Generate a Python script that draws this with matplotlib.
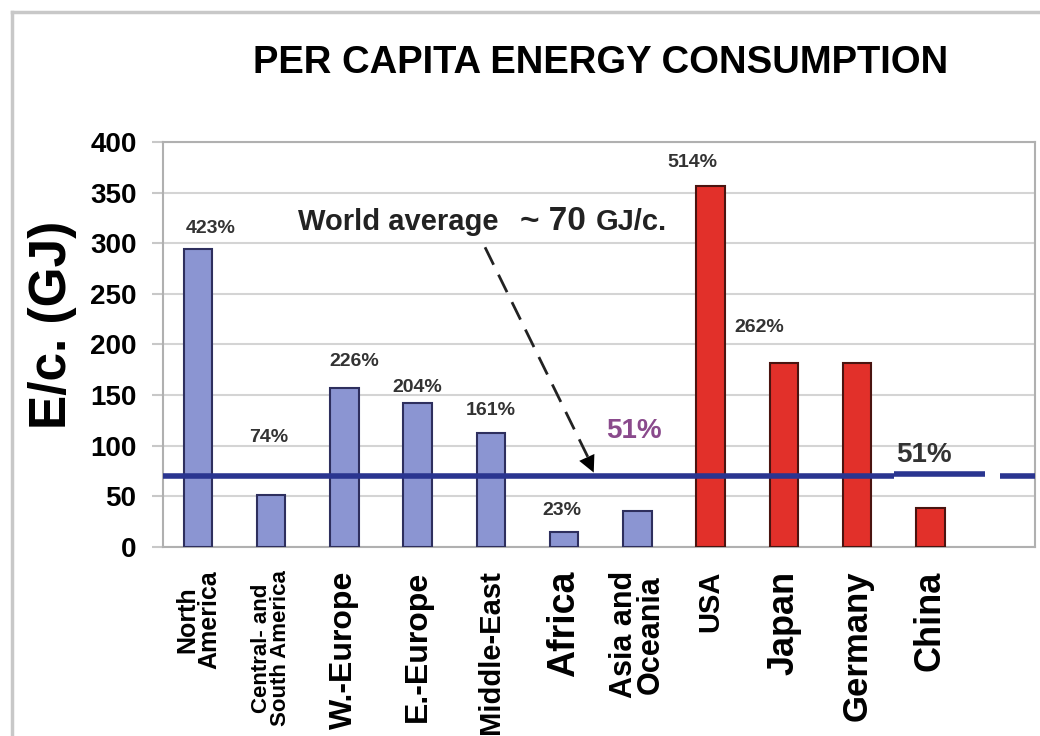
import matplotlib.pyplot as plt
from matplotlib.lines import Line2D

regions = ['North\nAmerica', 'Central- and\nSouth America', 'W.-Europe', 'E.-Europe',
           'Middle-East', 'Africa', 'Asia and\nOceania', 'USA', 'Japan', 'Germany', 'China']
energy_gj = [294, 51, 157, 142, 113, 15, 36, 357, 182, 182, 39]
share_labels = ['423%', '74%', '226%', '204%', '161%', '23%', '51%', '514%', '262%', '', '51%']
world_avg = 70

plt.rcParams['font.family'] = ['Liberation Sans', 'DejaVu Sans']
plt.rcParams['font.weight'] = 'bold'

blue = '#8b95d2'
red = '#e2302a'
colors = [blue] * 7 + [red] * 4
edges = ['#2e2f5e'] * 7 + ['#4a1410'] * 4

fig = plt.figure(figsize=(10.4, 7.36), dpi=100)
ax = fig.add_axes([0.1567, 0.2568, 0.8385, 0.5503])

x = list(range(len(regions)))
ax.bar(x, energy_gj, width=0.39, color=colors, edgecolor=edges, linewidth=1.5, zorder=3)

ax.set_xlim(-0.478, 11.43)
ax.set_ylim(0, 400)
ax.set_yticks(range(0, 401, 50))
ax.grid(axis='y', color='#d4d4d4', linewidth=1.5, zorder=0)
for s in ax.spines.values():
    s.set_color('#b0b0b0')
    s.set_linewidth(1.5)
ax.tick_params(axis='y', length=8, color='#c8c8c8', width=1.5, labelsize=20, pad=11)
ax.tick_params(axis='x', length=0, pad=17)

ax.set_xticks(x)
ax.set_xticklabels(regions, rotation=90, va='top', ha='center', multialignment='center')
label_sizes = [18, 16, 23, 23, 21, 27, 22, 21, 26, 25, 26]
for lab, fs in zip(ax.get_xticklabels(), label_sizes):
    lab.set_fontsize(fs)
    lab.set_linespacing(0.9)

ax.set_ylabel('E/c. (GJ)', fontsize=37, fontweight='bold')
ax.yaxis.set_label_coords(-0.099, 0.548)
fig.text(0.578, 0.915, 'PER CAPITA ENERGY CONSUMPTION', fontsize=27.5, fontweight='bold',
         ha='center', va='center')

# world average line, broken just before the last slot
ax.plot([-0.478, 9.5], [world_avg, world_avg], color='#2a3590', lw=4, zorder=4,
        solid_capstyle='butt')
ax.plot([9.5, 10.75], [world_avg + 2.5, world_avg + 2.5], color='#2a3590', lw=4, zorder=4,
        solid_capstyle='butt')
ax.plot([10.95, 11.43], [world_avg, world_avg], color='#2a3590', lw=4, zorder=4,
        solid_capstyle='butt')

# percentage labels above the bars
label_dx = [0.18, -0.03, 0.14, 0.0, 0.0, -0.03, -0.05, -0.25, -0.34, 0, -0.09]
label_y = [315, 108, 183, 158, 135, 36, 115, 380, 217, 0, 91]
for i, txt in enumerate(share_labels):
    if not txt:
        continue
    if i == 6:
        ax.text(i + label_dx[i], label_y[i], txt, color='#8a4a8c', fontsize=20,
                ha='center', va='center', zorder=5)
    elif i == 10:
        ax.text(i + label_dx[i], label_y[i], txt, color='#333333', fontsize=20,
                ha='center', va='center', zorder=5)
    else:
        ax.text(i + label_dx[i], label_y[i], txt, color='#333333', fontsize=14,
                ha='center', va='center', zorder=5)

ax.text(1.37, 321, 'World average', fontsize=21, ha='left', va='center', color='#222222')
ax.text(4.4, 321, '~ 70', fontsize=24, ha='left', va='center', color='#222222')
ax.text(5.43, 321, 'GJ/c.', fontsize=21, ha='left', va='center', color='#222222')

# dashed pointer down to the average line
ax.plot([3.92, 5.33], [296, 88], color='#222222', lw=2, dashes=(7, 4), zorder=5)
ax.annotate('', xy=(5.42, world_avg + 1), xytext=(5.3, 90),
            arrowprops=dict(arrowstyle='-|>', color='black', lw=0, mutation_scale=30),
            zorder=6)

# light frame around the whole graphic
fig.add_artist(Line2D([12 / 1040, 12 / 1040], [0, 1 - 12 / 736], color='#c8c8c8', lw=2.5))
fig.add_artist(Line2D([12 / 1040, 1], [1 - 12 / 736, 1 - 12 / 736], color='#c8c8c8', lw=2.5))

fig.savefig('out.png', dpi=100)
